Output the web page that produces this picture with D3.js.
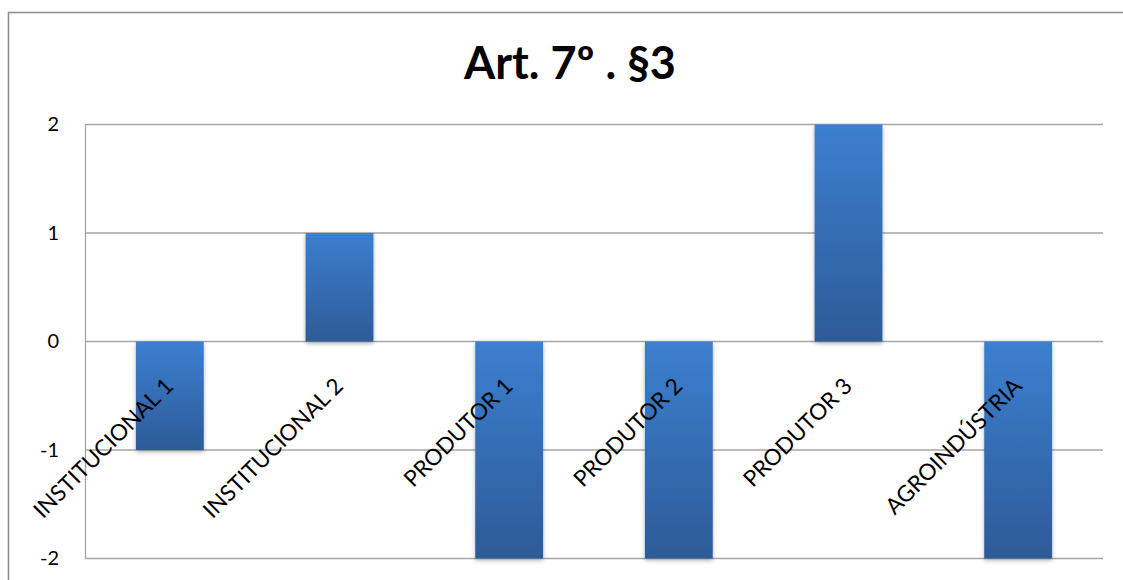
<!DOCTYPE html>
<html>
<head>
<meta charset="utf-8">
<script src="https://cdn.jsdelivr.net/npm/d3@7"></script>
<style>
  html, body { margin: 0; padding: 0; background: #fff; }
  svg { display: block; }
</style>
</head>
<body>
<div id="chart"></div>
<script>
// chart data
const categories = ["INSTITUCIONAL 1", "INSTITUCIONAL 2", "PRODUTOR 1", "PRODUTOR 2", "PRODUTOR 3", "AGROINDÚSTRIA"];
const values = [-1, 1, -2, -2, 2, -2];
const yTicks = [-2, -1, 0, 1, 2];
const title = "Art. 7º . §3";

const W = 1123, H = 580;
const margin = { top: 124.5, right: 20, bottom: 21.5, left: 85 };
const width = 1103 - margin.left;
const height = 558.5 - margin.top;

const svg = d3.select("#chart").append("svg")
  .attr("width", W)
  .attr("height", H);

const defs = svg.append("defs");
const grad = defs.append("linearGradient")
  .attr("id", "barGrad")
  .attr("x1", 0).attr("y1", 0).attr("x2", 0).attr("y2", 1);
grad.append("stop").attr("offset", "0%").attr("stop-color", "#3c7fd0");
grad.append("stop").attr("offset", "100%").attr("stop-color", "#2d5b97");

const shadow = defs.append("filter")
  .attr("id", "shadow")
  .attr("x", "-20%").attr("y", "-10%").attr("width", "140%").attr("height", "120%");
shadow.append("feDropShadow")
  .attr("dx", 0).attr("dy", 2).attr("stdDeviation", 2)
  .attr("flood-color", "#000").attr("flood-opacity", 0.3);

// outer chart border
svg.append("rect")
  .attr("x", 8.5).attr("y", 12.5)
  .attr("width", W).attr("height", H)
  .attr("fill", "none")
  .attr("stroke", "#8c8c8c")
  .attr("stroke-width", 1.5);

svg.append("text")
  .attr("x", 570)
  .attr("y", 79)
  .attr("text-anchor", "middle")
  .style("font-family", "Lato, 'Open Sans', sans-serif")
  .style("font-weight", "bold")
  .style("font-size", "45px")
  .attr("fill", "#000")
  .text(title);

const g = svg.append("g")
  .attr("transform", `translate(${margin.left},${margin.top})`);

const x = d3.scaleBand()
  .domain(categories)
  .range([0, width])
  .paddingInner(0.6)
  .paddingOuter(0.3);

const y = d3.scaleLinear()
  .domain([-2, 2])
  .range([height, 0]);

// gridlines
g.append("g")
  .selectAll("line")
  .data(yTicks)
  .enter()
  .append("line")
  .attr("x1", 0)
  .attr("x2", width)
  .attr("y1", d => y(d))
  .attr("y2", d => y(d))
  .attr("stroke", "#a6a6a6")
  .attr("stroke-width", 1.3);

// y axis
const yAxis = g.append("g")
  .call(d3.axisLeft(y).tickValues(yTicks).tickSize(0).tickPadding(26).tickFormat(d => String(d)));
yAxis.select(".domain").attr("stroke", "#a6a6a6").attr("stroke-width", 1.3);
yAxis.selectAll("text")
  .style("font-family", "Lato, 'Open Sans', sans-serif")
  .style("font-size", "20px")
  .attr("fill", "#000");

// bars
g.selectAll(".bar")
  .data(values)
  .enter()
  .append("rect")
  .attr("class", "bar")
  .attr("x", (d, i) => x(categories[i]))
  .attr("width", x.bandwidth())
  .attr("y", d => y(Math.max(0, d)))
  .attr("height", d => Math.abs(y(d) - y(0)))
  .attr("fill", "url(#barGrad)")
  .attr("filter", "url(#shadow)");

// category labels, drawn at the zero line
g.selectAll(".cat")
  .data(categories)
  .enter()
  .append("text")
  .attr("class", "cat")
  .attr("transform", d => `translate(${x(d) + x.bandwidth() / 2 + 5},${y(0) + 46}) rotate(-45)`)
  .attr("text-anchor", "end")
  .style("font-family", "Lato, 'Open Sans', sans-serif")
  .style("font-size", "22.5px")
  .attr("fill", "#000")
  .text(d => d);
</script>
</body>
</html>
